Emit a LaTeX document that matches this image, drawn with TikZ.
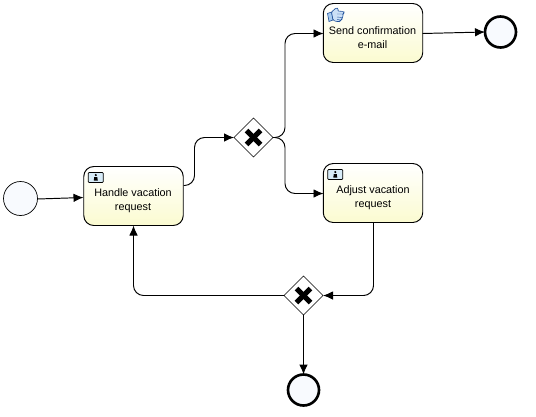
\documentclass[tikz,border=0pt]{standalone}
\usepackage{fontspec}
\setmainfont{Liberation Sans}
\usetikzlibrary{arrows.meta, calc, shapes.geometric}

\tikzset{
    taskBox/.style={draw=black, line width=0.55pt, rounded corners=0.2cm, top color=white, bottom color=taskColour, minimum width=1.99cm, minimum height=1.18cm, inner sep=0pt},
    taskText/.style={font=\fontsize{6.15}{7.6}\selectfont, align=center, inner sep=0pt},
    gateBox/.style={diamond, draw=black, line width=0.35pt, fill=white, minimum width=0.78cm, minimum height=0.78cm, inner sep=0pt, outer sep=0pt},
    startEvent/.style={circle, draw=black, line width=0.4pt, fill=eventColour, minimum size=0.68cm, inner sep=0pt, outer sep=0pt},
    endEvent/.style={circle, draw=black, line width=1.5pt, fill=eventColour, minimum size=0.62cm, inner sep=0pt, outer sep=0pt},
    flow/.style={draw=black, line width=0.55pt, rounded corners=0.2cm, -{Latex[length=0.2cm, width=0.17cm]}},
    marker/.style={draw=black, line width=0.4pt, fill=markerColour, rounded corners=0.5pt}
}

\begin{document}
\begin{tikzpicture}[x=0.02cm, y=-0.02cm]
    \definecolor{taskColour}{HTML}{FBFBD0}
    \definecolor{eventColour}{HTML}{F8FAFE}
    \definecolor{markerColour}{HTML}{D8ECF8}
    \definecolor{handColour}{HTML}{A8CCF0}
    \definecolor{handBorder}{HTML}{20509A}

    \useasboundingbox (0,0) rectangle (536,416);

    % Draw events
    \node[startEvent] (start) at (20.5,198.5) {};
    \node[endEvent] (endSend) at (500.5,32) {};
    \node[endEvent] (endMain) at (303.5,390) {};

    % Draw tasks
    \node[taskBox] (handle) at (133.5,196) {};
    \node[taskBox] (send) at (373,33) {};
    \node[taskBox] (adjust) at (373,193) {};

    % Label tasks
    \node[taskText] (handleText) at (133,200.5) {Handle vacation\\[0.6pt]request};
    \node[taskText] (sendText) at (372.5,37.5) {Send confirmation\\[0.6pt]e-mail};
    \node[taskText] (adjustText) at (373,197.5) {Adjust vacation\\[0.6pt]request};

    % Draw gateways
    \node[gateBox] (split) at (253.5,137.5) {};
    \node[gateBox] (merge) at (303.5,295.5) {};
    \foreach \gate in {split, merge} {
        \draw[line width=0.1cm] ($(\gate)+(-7,-7)$) -- ($(\gate)+(7,7)$);
        \draw[line width=0.1cm] ($(\gate)+(-7,7)$) -- ($(\gate)+(7,-7)$);
    }

    % Draw the markers of the sub-process tasks
    \foreach \task in {handle, adjust} {
        \draw[marker] ($(\task.north west)+(5,6.5)$) rectangle ($(\task.north west)+(20,16.5)$);
        \fill ($(\task.north west)+(12.5,9)$) circle (1.2);
        \fill ($(\task.north west)+(10.5,14.5)$) -- ($(\task.north west)+(11,11)$) -- ($(\task.north west)+(14,11)$) -- ($(\task.north west)+(14.5,14.5)$) -- cycle;
    }

    % Draw the hand of the manual task
    \draw[fill=handColour, draw=handBorder, line width=0.35pt]
        (327.5,13.5) -- (331.5,12) -- (333,20) -- (329,21.5) -- cycle;
    \draw[fill=handColour!60!white, draw=handBorder, line width=0.35pt, rounded corners=0.6pt]
        (331.5,12) -- (336,8) -- (338.5,8.5) -- (337.5,11) -- (344,11.5) -- (344,13.5) -- (342.5,14)
        -- (343.5,16) -- (342,17.5) -- (342,19.5) -- (340.5,20) -- (340,21.5) -- (336,21.5) -- (333,20) -- cycle;
    \draw[draw=handBorder, line width=0.25pt] (337,14) -- (342.5,14) (337,17) -- (342,17.5) (337,19.5) -- (340.5,20);

    % Connection points on the tasks
    \coordinate (handleOut) at (183.5,185.5);
    \coordinate (handleIn) at (83.5,197.5);
    \coordinate (startOut) at (37.5,199);
    \coordinate (sendOut) at (422.5,33.5);
    \coordinate (sendIn) at (323.5,33.5);
    \coordinate (adjustIn) at (323.5,193.5);
    \coordinate (adjustOut) at (373.5,222.5);
    \coordinate (handleBack) at (133.5,225.5);

    % Draw the sequence flows
    \draw[flow] (startOut) -- (handleIn);
    \draw[flow] (handleOut) -- ++(11,0) |- (split.west);
    \draw[flow] (split.east) -- ++(12,0) |- (sendIn);
    \draw[flow] (split.east) -- ++(12,0) |- (adjustIn);
    \draw[flow] (sendOut) -- (endSend.west);
    \draw[flow] (adjustOut) |- (merge.east);
    \draw[flow] (merge.west) -| (handleBack);
    \draw[flow] (merge.south) -- (endMain.north);
\end{tikzpicture}
\end{document}
